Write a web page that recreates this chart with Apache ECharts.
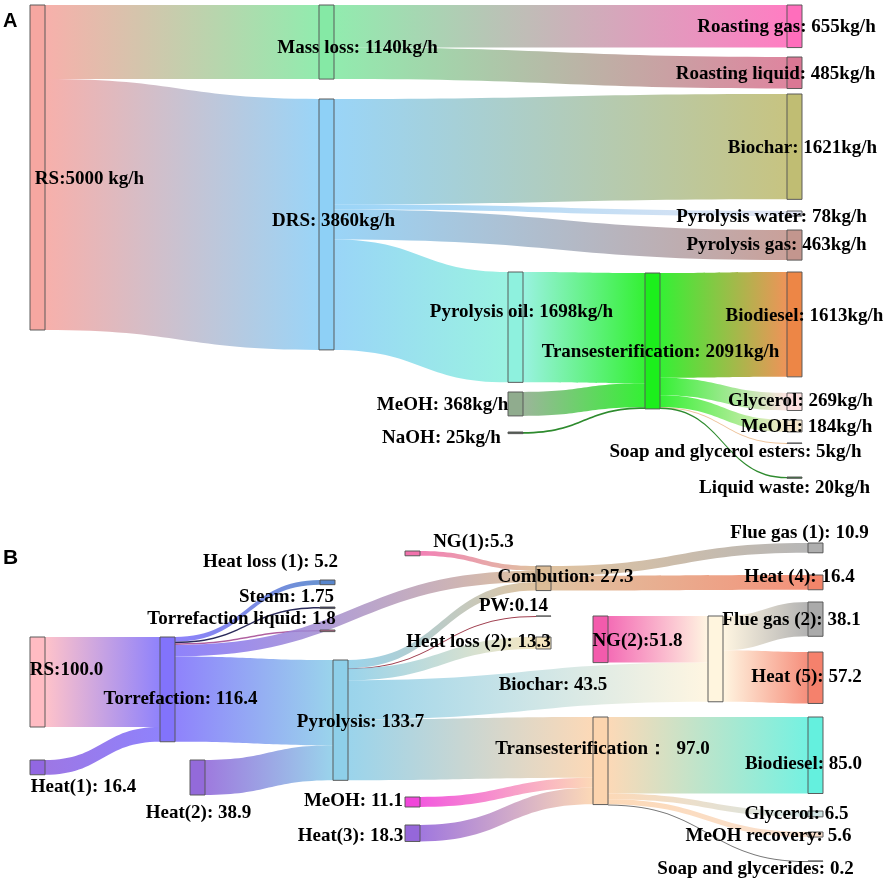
<!DOCTYPE html>
<html><head><meta charset="utf-8">
<script src="https://cdn.jsdelivr.net/npm/echarts@6/dist/echarts.min.js"></script>
<style>html,body{margin:0;padding:0;background:#fff}#c{width:892px;height:884px}</style>
</head><body><div id="c"></div>
<script>
// ================= DATA =================
// Panel A (kg/h)
const nodesA = ['RS','Mass loss','Roasting gas','Roasting liquid','Biochar','DRS','Pyrolysis water','Pyrolysis gas',
  'Pyrolysis oil','Biodiesel','Transesterification','MeOH (in)','Glycerol','MeOH (out)','NaOH','Soap and glycerol esters','Liquid waste'];
const labelsA = ['RS:5000 kg/h','Mass loss: 1140kg/h','Roasting gas: 655kg/h','Roasting liquid: 485kg/h','Biochar: 1621kg/h',
  'DRS: 3860kg/h','Pyrolysis water: 78kg/h','Pyrolysis gas: 463kg/h','Pyrolysis oil: 1698kg/h','Biodiesel: 1613kg/h',
  'Transesterification: 2091kg/h','MeOH: 368kg/h','Glycerol: 269kg/h','MeOH: 184kg/h','NaOH: 25kg/h',
  'Soap and glycerol esters: 5kg/h','Liquid waste: 20kg/h'];
const srcA = ['RS','RS','Mass loss','Mass loss','DRS','DRS','DRS','DRS','Pyrolysis oil','MeOH (in)','NaOH',
  'Transesterification','Transesterification','Transesterification','Transesterification','Transesterification'];
const tgtA = ['Mass loss','DRS','Roasting gas','Roasting liquid','Biochar','Pyrolysis water','Pyrolysis gas','Pyrolysis oil',
  'Transesterification','Transesterification','Transesterification','Biodiesel','Glycerol','MeOH (out)','Soap and glycerol esters','Liquid waste'];
const valA = [1140,3860,655,485,1621,78,463,1698,1698,368,25,1613,269,184,5,20];

// Panel B
const nodesB = ['NG(1)','Flue gas (1)','Heat (4)','Heat loss (1)','Steam','Torrefaction liquid','Combustion','Flue gas (2)',
  'PW','Heat loss (2)','NG(2)','Biochar combustion','Heat (5)','RS','Torrefaction','Pyrolysis','Transesterification',
  'Biodiesel','Heat(1)','Heat(2)','MeOH','Glycerol','Heat(3)','MeOH recovery','Soap and glycerides'];
const labelsB = ['NG(1):5.3','Flue gas (1): 10.9','Heat (4): 16.4','Heat loss (1): 5.2','Steam: 1.75','Torrefaction liquid: 1.8',
  'Combution: 27.3','Flue gas (2): 38.1','PW:0.14','Heat loss (2): 13.3','NG(2):51.8','','Heat (5): 57.2','RS:100.0',
  'Torrefaction: 116.4','Pyrolysis: 133.7','Transesterification：  97.0','Biodiesel: 85.0','Heat(1): 16.4','Heat(2): 38.9',
  'MeOH: 11.1','Glycerol: 6.5','Heat(3): 18.3','MeOH recovery: 5.6','Soap and glycerides: 0.2'];
const srcB = ['RS','Heat(1)','Torrefaction','Torrefaction','Torrefaction','Torrefaction','Torrefaction','Heat(2)',
  'Pyrolysis','Pyrolysis','Pyrolysis','Pyrolysis','Pyrolysis','NG(1)','MeOH','Heat(3)','NG(2)',
  'Combustion','Combustion','Biochar combustion','Biochar combustion',
  'Transesterification','Transesterification','Transesterification','Transesterification'];
const tgtB = ['Torrefaction','Torrefaction','Heat loss (1)','Steam','Torrefaction liquid','Combustion','Pyrolysis','Pyrolysis',
  'Combustion','PW','Heat loss (2)','Biochar combustion','Transesterification','Combustion','Transesterification','Transesterification','Biochar combustion',
  'Flue gas (1)','Heat (4)','Flue gas (2)','Heat (5)',
  'Biodiesel','Glycerol','MeOH recovery','Soap and glycerides'];
const valB = [100,16.4,5.2,1.75,1.8,12.85,94.8,38.9,9.15,0.14,13.3,43.5,67.61,5.3,11.1,18.3,51.8,10.9,16.4,38.1,57.2,85,6.5,5.6,0.2];
const edgeTextB = {'Pyrolysis>Biochar combustion':'Biochar: 43.5'};

// ================= LAYOUT (node placement, px; kept apart from data) =================
const scaleA = 0.065, scaleB = 0.9;     // px per unit
const placeA = {'RS':[30,5],'Mass loss':[319,5],'DRS':[319,99],'Roasting gas':[787,5],'Roasting liquid':[787,57],
  'Biochar':[787,94],'Pyrolysis water':[787,211],'Pyrolysis gas':[787,230],'Pyrolysis oil':[508,272],'MeOH (in)':[508,392],
  'NaOH':[508,432],'Transesterification':[645,273],'Biodiesel':[787,272],'Glycerol':[787,393],'MeOH (out)':[787,420],
  'Soap and glycerol esters':[787,443],'Liquid waste':[787,477]};
const labelOffA = {'RS':[52,12],'Mass loss':[31,6],'DRS':[7,-3],'Roasting gas':[-8,1],'Roasting liquid':[-19,1],
  'Biochar':[8,1],'Pyrolysis water':[-23,4],'Pyrolysis gas':[-18,0],'Pyrolysis oil':[6,-15],'MeOH (in)':[-73,1],
  'NaOH':[-74,5],'Transesterification':[8,11],'Biodiesel':[10,-8],'Glycerol':[6,-1],'MeOH (out)':[12,1],
  'Soap and glycerol esters':[-59,9],'Liquid waste':[-10,10]};
const placeB = {'RS':[30,637],'Heat(1)':[30,760],'Torrefaction':[160,637],'Heat(2)':[190,760],'Heat loss (1)':[320,580],
  'Steam':[320,607],'Torrefaction liquid':[320,630],'Pyrolysis':[333,660],'NG(1)':[405,551],'MeOH':[405,797],
  'Heat(3)':[405,825],'Combustion':[536,566],'PW':[536,616],'Heat loss (2)':[536,637],'NG(2)':[593,616],
  'Transesterification':[593,717],'Biochar combustion':[708,616],'Flue gas (1)':[808,543],'Heat (4)':[808,575],
  'Flue gas (2)':[808,602],'Heat (5)':[808,652],'Biodiesel':[808,717],'Glycerol':[808,811],'MeOH recovery':[808,832],
  'Soap and glycerides':[808,861]};
const labelOffB = {'RS':[29,-12],'Heat(1)':[46,20],'Torrefaction':[13,10],'Heat(2)':[1,36],'Heat loss (1)':[-57,-20],
  'Steam':[-41,-11],'Torrefaction liquid':[-86,-12],'Pyrolysis':[20,2],'NG(1)':[61,-11],'MeOH':[-59,-1],'Heat(3)':[-62,3],
  'Combustion':[22,-1],'PW':[-30,-10],'Heat loss (2)':[-65,-1],'NG(2)':[37,2],'Transesterification':[2,-12],
  'Biochar combustion':[0,0],'Flue gas (1)':[-16,-15],'Heat (4)':[-16,-5],'Flue gas (2)':[-24,1],'Heat (5)':[-9,-1],
  'Biodiesel':[-12,9],'Glycerol':[-19,0],'MeOH recovery':[-47,2],'Soap and glycerides':[-60,8]};

// ================= STYLES =================
const colorA = {'RS':'#f6a29c','Mass loss':'#7ee8a0','DRS':'#88cdf6','Roasting gas':'#ff66b8','Roasting liquid':'#d8708e',
  'Biochar':'#bdb96b','Pyrolysis water':'#dde0f0','Pyrolysis gas':'#c09088','Pyrolysis oil':'#88f0dc','MeOH (in)':'#8aa888',
  'NaOH':'#4a5a4a','Transesterification':'#10ee10','Biodiesel':'#ec803c','Glycerol':'#fcdcdc','MeOH (out)':'#f6e6c8',
  'Soap and glycerol esters':'#c8c8d8','Liquid waste':'#2e7d32'};
const linkColorA = {'NaOH>Transesterification':'#2e8b2e','Transesterification>Liquid waste':'#2e8b2e',
  'Transesterification>Soap and glycerol esters':'#eec49c'};
const colorB = {'RS':'#ffb8c0','Heat(1)':'#8c5fe0','Torrefaction':'#7b6cfb','Heat(2)':'#8d62d8','Pyrolysis':'#88cce8',
  'Heat loss (1)':'#4f7fc9','Steam':'#2a2a5a','Torrefaction liquid':'#c4608a','NG(1)':'#f06aa8','MeOH':'#f03cd8',
  'Heat(3)':'#8f5fd8','Combustion':'#dab890','PW':'#555555','Heat loss (2)':'#f3e3b8','NG(2)':'#f252a8',
  'Transesterification':'#fcd2aa','Biochar combustion':'#fff4dc','Flue gas (1)':'#aaaaaa','Heat (4)':'#f27e62',
  'Flue gas (2)':'#a5a5a5','Heat (5)':'#f47a64','Biodiesel':'#5cefdc','Glycerol':'#cde3e3','MeOH recovery':'#f8dcc8',
  'Soap and glycerides':'#777777'};
const linkColorB = {'Torrefaction>Steam':'#2a2a5a','Torrefaction>Torrefaction liquid':'#b060a0','Pyrolysis>PW':'#a04050',
  'Transesterification>Soap and glycerides':'#777777'};

const font = {fontFamily:'Liberation Serif', fontWeight:'bold', fontSize:19, color:'#000'};
const W = 892;

function nodeValues(nodes, src, tgt, val) {
  const inS = {}, outS = {};
  src.forEach((s,i) => { outS[s] = (outS[s]||0) + val[i]; inS[tgt[i]] = (inS[tgt[i]]||0) + val[i]; });
  return nodes.map(n => Math.max(inS[n]||0, outS[n]||0));
}
function build(nodes, labels, colors, place, off, H) {
  return nodes.map((n,i) => ({
    name:n, depth:0,
    localX: place[n][0] / W, localY: place[n][1] / H,
    itemStyle:{color:colors[n]},
    label:{show: labels[i] !== '', position:['50%','50%'], align:'center', verticalAlign:'middle',
      offset: off[n], formatter: labels[i]}
  }));
}
function buildLinks(src,tgt,val,lc,txt) {
  return src.map((s,i) => {
    const key = s + '>' + tgt[i];
    const o = {source:s, target:tgt[i], value:val[i]};
    if (lc[key]) o.lineStyle = {color:lc[key], opacity:1};
    if (txt && txt[key]) o.edgeText = txt[key];
    return o;
  });
}

const HA = nodeValues(nodesA, srcA, tgtA, valA).reduce((a,b)=>a+b,0) * scaleA;
const HB = nodeValues(nodesB, srcB, tgtB, valB).reduce((a,b)=>a+b,0) * scaleB;

const common = {
  type:'sankey', nodeWidth:15, nodeGap:0, layoutIterations:0, draggable:false,
  left:0, top:0, width:W,
  emphasis:{disabled:true},
  itemStyle:{borderColor:'#555', borderWidth:1, opacity:0.95},
  lineStyle:{color:'gradient', opacity:0.85, curveness:0.5},
  label:Object.assign({}, font)
};

const chart = echarts.init(document.getElementById('c'), null, {renderer:'canvas'});
chart.setOption({
  backgroundColor:'#fff',
  animation:false,
  title:[
    {text:'A', left:3, top:11, padding:0, textStyle:{fontFamily:'Liberation Sans', fontWeight:'bold', fontSize:20, color:'#000'}},
    {text:'B', left:3, top:548, padding:0, textStyle:{fontFamily:'Liberation Sans', fontWeight:'bold', fontSize:21, color:'#000'}}
  ],
  series:[
    Object.assign({}, common, {
      height:HA,
      data:build(nodesA, labelsA, colorA, placeA, labelOffA, HA),
      links:buildLinks(srcA,tgtA,valA,linkColorA,null)
    }),
    Object.assign({}, common, {
      height:HB,
      data:build(nodesB, labelsB, colorB, placeB, labelOffB, HB),
      links:buildLinks(srcB,tgtB,valB,linkColorB,edgeTextB),
      edgeLabel:Object.assign({show:true, offset:[25,-6], formatter:p => (p.data && p.data.edgeText) || ''}, font)
    })
  ]
});
</script></body></html>
